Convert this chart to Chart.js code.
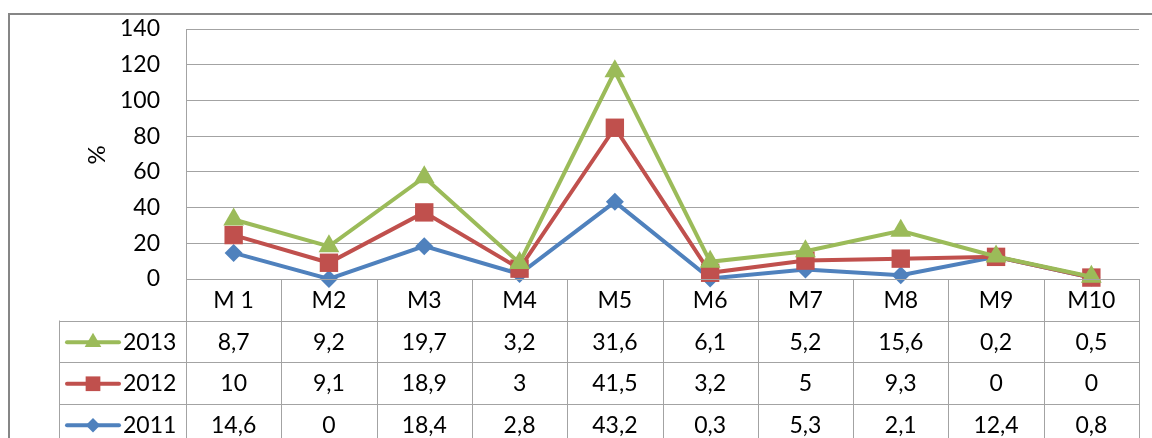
<!DOCTYPE html>
<html>
<head>
<meta charset="utf-8">
<script src="https://cdn.jsdelivr.net/npm/chart.js@4/dist/chart.umd.min.js"></script>
<style>
  html, body { margin: 0; padding: 0; background: #fff; }
  #wrap { width: 1152px; height: 438px; }
</style>
</head>
<body>
<div id="wrap"><canvas id="chart" width="1152" height="438"></canvas></div>
<script>
// categories and yearly values (as shown in the table below the plot)
const categories = ['M 1', 'M2', 'M3', 'M4', 'M5', 'M6', 'M7', 'M8', 'M9', 'M10'];
const s2011 = [14.6, 0, 18.4, 2.8, 43.2, 0.3, 5.3, 2.1, 12.4, 0.8];
const s2012 = [10, 9.1, 18.9, 3, 41.5, 3.2, 5, 9.3, 0, 0];
const s2013 = [8.7, 9.2, 19.7, 3.2, 31.6, 6.1, 5.2, 15.6, 0.2, 0.5];
const yMin = 0, yMax = 140, yStep = 20;

const FONT = 'Lato, "Open Sans", sans-serif';
const GREEN = '#9bbb59', RED = '#c0504d', BLUE = '#4f81bd';
const GRID = '#a3a3a3';

const datasets = [
    { label: '2011', data: s2011, borderColor: BLUE, backgroundColor: BLUE, pointStyle: 'rectRot', pointRadius: 9 },
    { label: '2012', data: s2012, borderColor: RED, backgroundColor: RED, pointStyle: 'rect', pointRadius: 13 },
    { label: '2013', data: s2013, borderColor: GREEN, backgroundColor: GREEN, pointStyle: 'triangle', pointRadius: 12 }
].map(d => ({ ...d, borderWidth: 4, pointBorderWidth: 0, tension: 0, fill: false, clip: false }));

// table rows, top to bottom
const rows = [
    { idx: 2, values: s2013 },
    { idx: 1, values: s2012 },
    { idx: 0, values: s2011 }
];

const fmtVal = v => String(v).replace('.', ',');

// stacked order keeps 2011 at the base but 2013 has to be painted last
const drawOrder = {
    id: 'drawOrder',
    beforeDatasetDraw() { return false; },
    afterDatasetsDraw(chart) {
        [0, 1, 2].forEach(i => chart.getDatasetMeta(i).controller.draw());
    }
};

const frameAndTable = {
    id: 'frameAndTable',
    beforeDraw(chart) {
        const ctx = chart.ctx;
        ctx.save();
        ctx.strokeStyle = '#868686';
        ctx.lineWidth = 2;
        ctx.strokeRect(9, 14, 1160, 460);
        ctx.restore();
    },
    afterDraw(chart) {
        const ctx = chart.ctx;
        const x = chart.scales.x;
        const area = chart.chartArea;
        const rowH = 41.5;
        const top = area.bottom;
        const tableLeft = 59;
        const bottom = 470;
        const step = (area.right - area.left) / categories.length;

        ctx.save();
        // axis title
        ctx.fillStyle = '#000';
        ctx.font = '24px ' + FONT;
        ctx.translate(97, 155);
        ctx.rotate(-Math.PI / 2);
        ctx.textAlign = 'center';
        ctx.textBaseline = 'middle';
        ctx.fillText('%', 0, 0);
        ctx.restore();

        ctx.save();
        ctx.strokeStyle = GRID;
        ctx.lineWidth = 1;
        ctx.beginPath();
        // vertical separators
        for (let i = 0; i <= categories.length; i++) {
            const px = Math.round(area.left + i * step) + 0.5;
            ctx.moveTo(px, top);
            ctx.lineTo(px, bottom);
        }
        ctx.moveTo(tableLeft + 0.5, top + rowH);
        ctx.lineTo(tableLeft + 0.5, bottom);
        // horizontal separators
        ctx.moveTo(area.left, Math.round(top) + 0.5);
        ctx.lineTo(area.right, Math.round(top) + 0.5);
        for (let r = 1; r <= 3; r++) {
            const py = Math.round(top + r * rowH) + 0.5;
            ctx.moveTo(tableLeft, py);
            ctx.lineTo(area.right, py);
        }
        ctx.stroke();

        ctx.fillStyle = '#000';
        ctx.font = '23px ' + FONT;
        ctx.textAlign = 'center';
        ctx.textBaseline = 'middle';
        categories.forEach((c, i) => {
            ctx.fillText(c, x.getPixelForValue(i), top + rowH / 2 + 1);
        });

        rows.forEach((row, r) => {
            const cy = top + rowH * (r + 1) + rowH / 2 + 1;
            row.values.forEach((v, i) => {
                ctx.fillText(fmtVal(v), x.getPixelForValue(i), cy);
            });
            const ds = datasets[row.idx];
            // legend key
            ctx.strokeStyle = ds.borderColor;
            ctx.lineWidth = 4;
            ctx.lineCap = 'round';
            ctx.beginPath();
            ctx.moveTo(67, cy);
            ctx.lineTo(119, cy);
            ctx.stroke();
            ctx.fillStyle = ds.backgroundColor;
            Chart.helpers.drawPoint(ctx, {
                pointStyle: ds.pointStyle,
                radius: ds.pointRadius * 0.8,
                rotation: 0,
                borderWidth: 0
            }, 93, cy);
            ctx.fillStyle = '#000';
            ctx.textAlign = 'left';
            ctx.fillText(ds.label, 123, cy);
            ctx.textAlign = 'center';
        });
        ctx.restore();
    }
};

new Chart(document.getElementById('chart'), {
    type: 'line',
    data: { labels: categories, datasets },
    options: {
        responsive: false,
        animation: false,
        events: [],
        layout: { padding: { left: 0, top: 29, right: 13, bottom: 159 } },
        plugins: { legend: { display: false }, tooltip: { enabled: false } },
        scales: {
            x: { display: false, offset: true },
            y: {
                stacked: true,
                min: yMin,
                max: yMax,
                afterFit: s => { s.width = 186; s.paddingTop = 0; s.paddingBottom = 0; },
                ticks: { stepSize: yStep, padding: 26, color: '#000', font: { family: FONT, size: 23 } },
                grid: { color: GRID, drawTicks: false },
                border: { display: true, color: GRID }
            }
        }
    },
    plugins: [drawOrder, frameAndTable]
});
</script>
</body>
</html>
